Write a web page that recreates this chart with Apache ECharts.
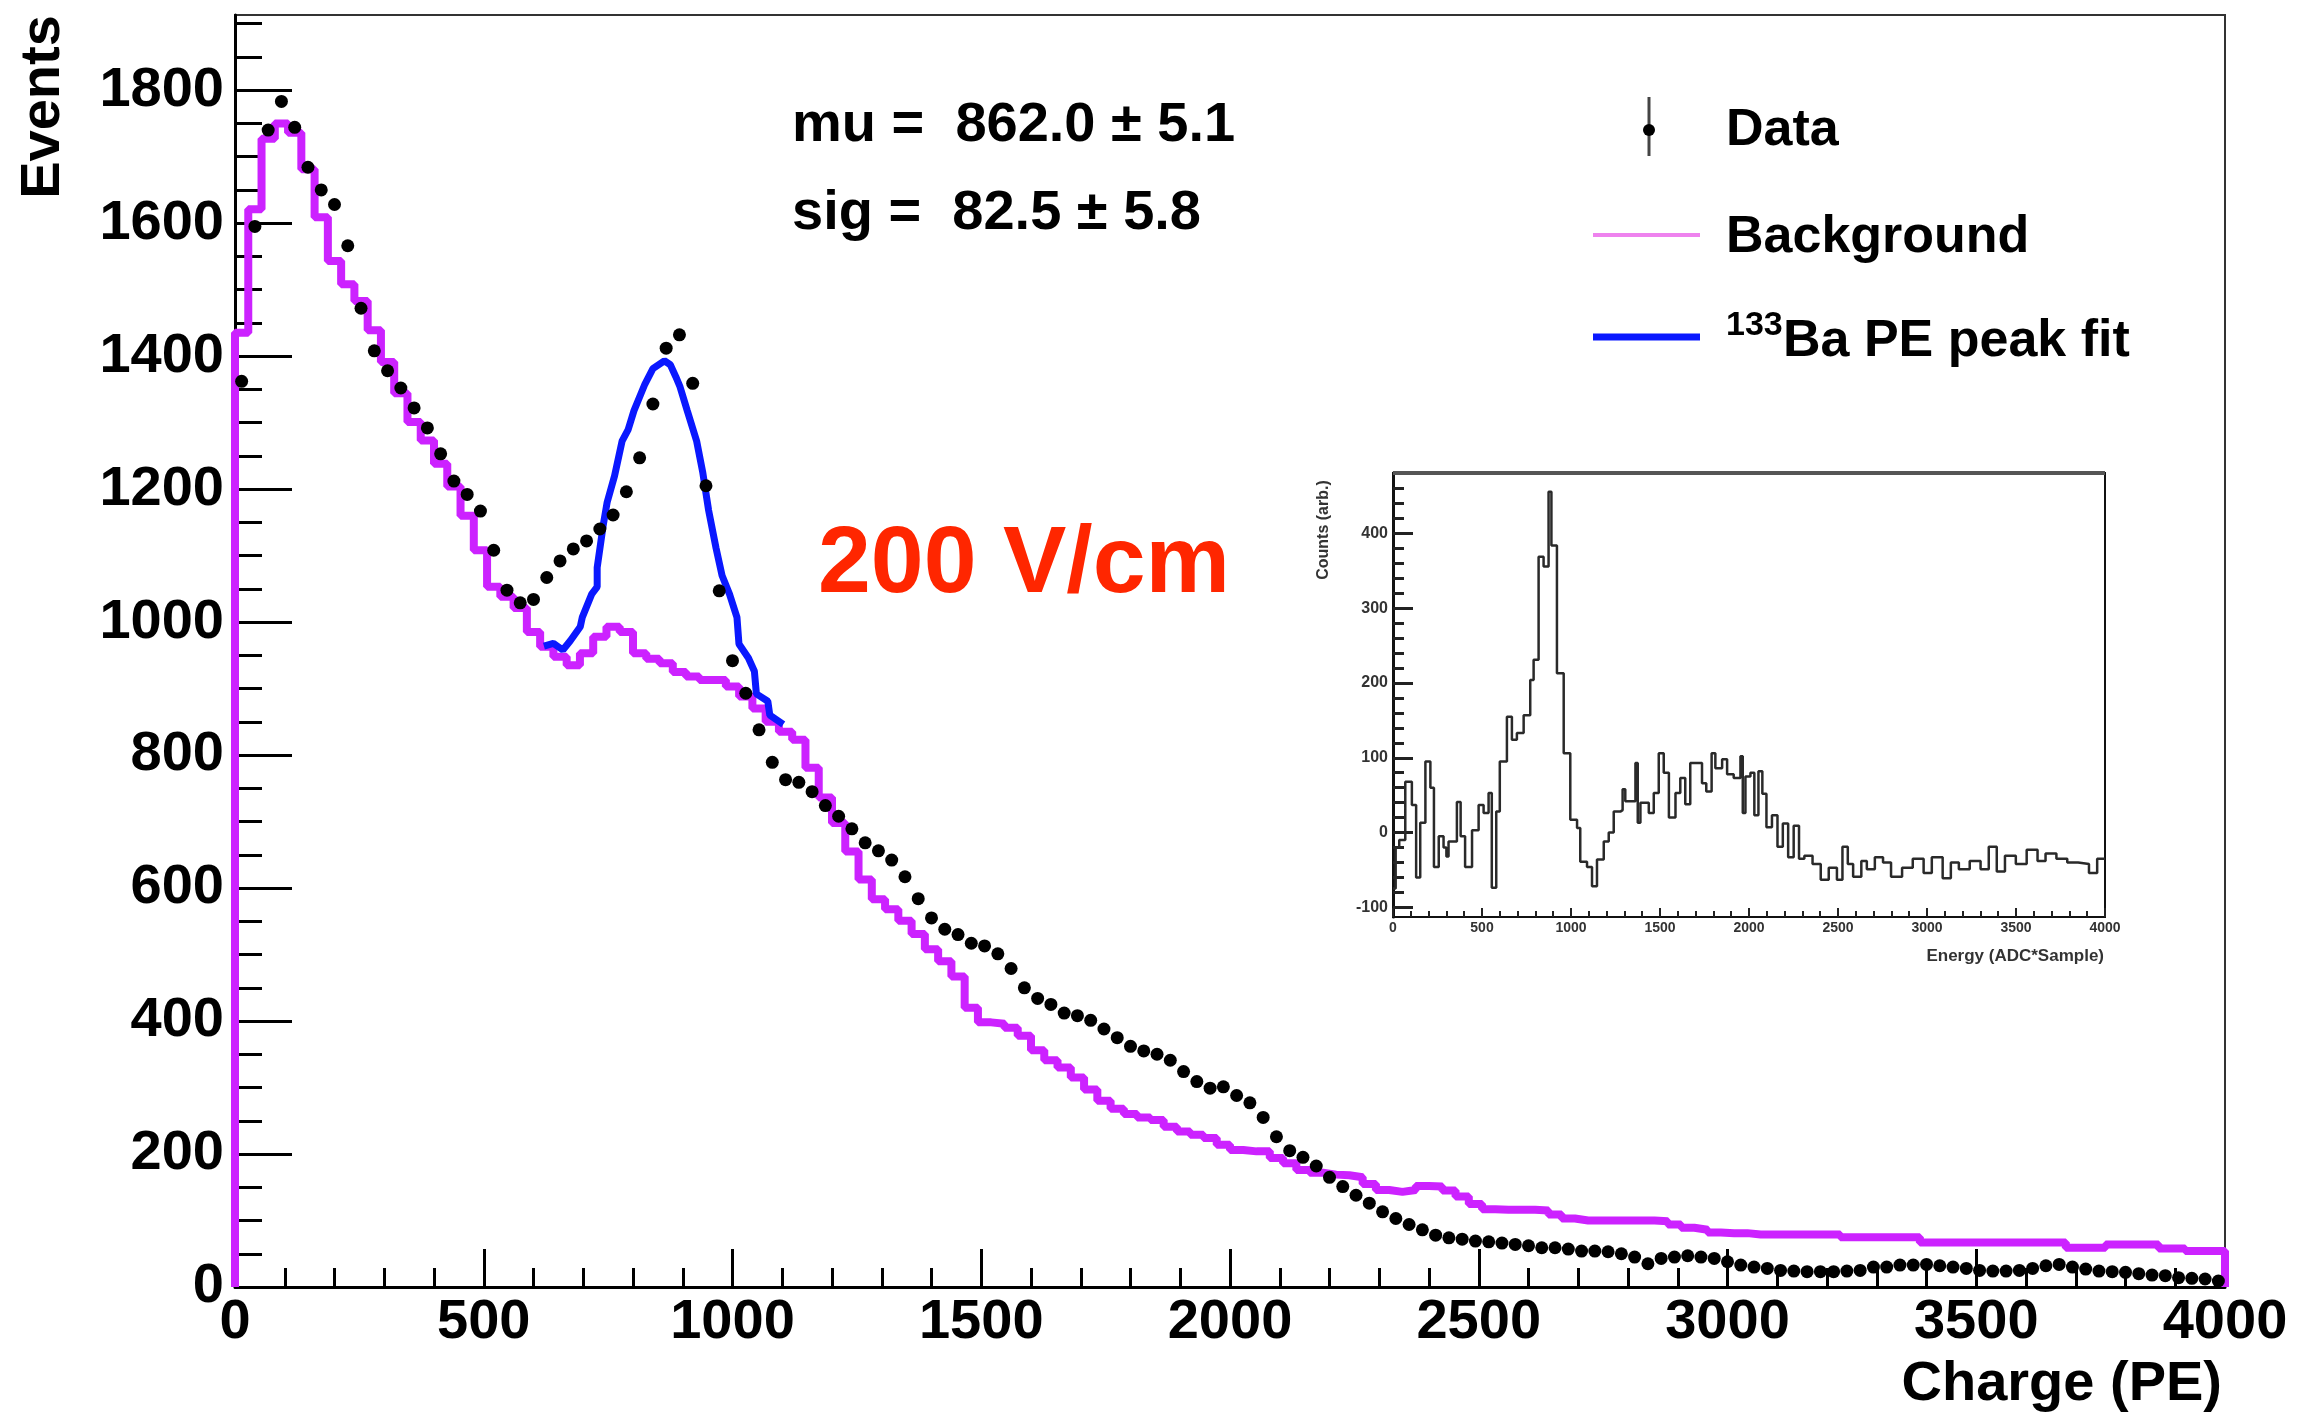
<!DOCTYPE html>
<html><head><meta charset="utf-8">
<script src="https://cdn.jsdelivr.net/npm/echarts@6/dist/echarts.min.js"></script>
<style>html,body{margin:0;padding:0;background:#fff}#c{width:2307px;height:1415px}</style>
</head><body><div id="c"></div>
<script>
// ---------- data ----------
const X_MIN = 0, X_MAX = 4000, N_BINS = 150;
const BIN_WIDTH = (X_MAX - X_MIN) / N_BINS;

const dataCounts = [
  1362,1595,1740,1783,1744,1684,1650,1628,1566,1472,
  1408,1378,1352,1322,1292,1253,1212,1192,1167,1108,
  1048,1029,1034,1067,1092,1110,1122,1140,1161,1196,
  1247,1328,1412,1432,1359,1205,1047,942,893,838,
  789,763,759,745,724,708,689,668,656,642,
  617,584,555,538,530,517,513,501,479,450,
  434,425,412,408,401,388,375,362,355,350,
  341,324,309,299,301,288,277,255,226,205,
  195,182,165,151,138,126,113,103,94,86,
  78,74,72,69,68,66,64,62,59,59,
  57,54,54,53,50,45,35,43,45,47,
  45,43,38,33,30,28,25,24,23,23,
  23,24,25,30,30,33,33,34,32,30,
  28,25,24,24,25,28,32,34,30,27,
  24,23,22,20,18,17,14,13,12,9
];

const backgroundCounts = [
  1435,1621,1727,1750,1736,1681,1609,1543,1508,1483,
  1439,1391,1344,1301,1273,1238,1204,1160,1108,1053,
  1038,1021,985,963,948,935,953,978,993,985,
  953,945,938,925,918,913,913,903,888,870,
  850,835,823,781,736,698,655,613,583,568,
  551,531,508,490,467,420,398,396,390,378,
  356,341,330,315,297,280,268,260,255,251,
  241,234,229,224,214,206,204,204,194,186,
  176,172,169,168,165,155,146,143,146,152,
  151,145,136,125,117,116,116,116,115,109,
  103,100,100,100,100,100,100,99,94,89,
  86,82,81,81,79,79,79,79,79,79,
  79,75,75,75,75,75,75,67,67,67,
  67,67,67,67,67,67,67,67,59,59,
  59,64,64,64,64,58,58,54,54,54
];

const fitX = [621,640,659,674,694,698,717,728,728,740,748,763,778,790,802,824,840,863,875,886,894,909,928,940,952,967,979,994,1009,1013,1032,1044,1048,1071,1075,1102];
const fitY = [964,968,958,972,993,1007,1042,1053,1082,1145,1180,1220,1272,1289,1318,1358,1381,1393,1387,1369,1355,1318,1272,1226,1168,1111,1070,1042,1007,967,946,926,892,881,860,846];

const xTickLabels = [0,500,1000,1500,2000,2500,3000,3500,4000];
const yTickLabels = [0,200,400,600,800,1000,1200,1400,1600,1800];
const yMinorTicks = [0,50,100,150,200,250,300,350,400,450,500,550,600,650,700,750,800,850,900,950,1000,1050,1100,1150,1200,1250,1300,1350,1400,1450,1500,1550,1600,1650,1700,1750,1800,1850,1900];

// inset spectrum (step edges / levels)
const insetEdges = [0,15,35,69,106,130,153,182,210,230,257,284,300,312,359,380,405,444,481,509,537,555,580,600,640,668,696,734,771,790,818,846,874,890,921,959,996,1034,1052,1090,1118,1146,1184,1212,1240,1277,1290,1305,1362,1375,1390,1437,1465,1493,1521,1550,1587,1614,1642,1670,1708,1736,1760,1790,1811,1849,1877,1914,1952,1965,1980,2008,2030,2053,2075,2098,2129,2160,2190,2220,2251,2281,2311,2357,2403,2448,2494,2525,2555,2585,2631,2662,2707,2753,2798,2860,2920,2981,3027,3088,3134,3179,3240,3301,3347,3392,3438,3499,3560,3621,3666,3727,3788,3849,3910,3956];
const insetLevels = [-75,-20,-10,68,37,-60,13,95,60,-46,-5,-20,-32,-12,41,-5,-46,3,37,26,53,-74,28,95,155,124,133,157,204,231,369,356,456,384,213,106,17,6,-39,-46,-72,-36,-12,0,28,30,58,42,93,13,40,26,53,106,80,20,53,73,38,93,93,66,55,106,86,98,78,73,102,26,75,80,23,82,52,7,23,-19,12,-33,9,-35,-31,-42,-63,-47,-63,-19,-42,-59,-38,-49,-33,-40,-59,-47,-35,-54,-33,-61,-40,-49,-38,-49,-19,-52,-31,-42,-23,-38,-28,-35,-40,-42,-54,-35];
const insetYTickLabels = [-100,0,100,200,300,400];
const insetYMinor = [-100,-80,-60,-40,-20,0,20,40,60,80,100,120,140,160,180,200,220,240,260,280,300,320,340,360,380,400,420,440,460,480];

// ---------- build ----------
const FONT = '"Liberation Sans", Arial, Helvetica, sans-serif';
const plain = v => String(v);
const dataPts = dataCounts.map((v, i) => [(i + 0.5) * BIN_WIDTH, v]);
const bgPts = [[X_MIN, 0]].concat(backgroundCounts.map((v, i) => [i * BIN_WIDTH, v]));
bgPts.push([X_MAX, backgroundCounts[backgroundCounts.length - 1]]);
bgPts.push([X_MAX, 0]);
const fitPts = fitX.map((x, i) => [x, fitY[i]]);
const insetPts = insetEdges.map((x, i) => [x, insetLevels[i]]);
insetPts.push([4000, insetLevels[insetLevels.length - 1]]);

const chart = echarts.init(document.getElementById('c'), null, {renderer: 'canvas'});
const option = {
  animation: false,
  backgroundColor: '#fff',
  grid: [
    {left: 235, right: 82, top: 15, bottom: 128, show: true, borderColor: '#333', borderWidth: 2, containLabel: false},
    {left: 1393, top: 473, width: 712, height: 444, show: true, borderColor: '#111', borderWidth: 2, backgroundColor: '#fff', containLabel: false}
  ],
  xAxis: [
    {type: 'value', gridIndex: 0, min: X_MIN, max: X_MAX, interval: 500,
     axisLine: {show: true, onZero: false, lineStyle: {color: '#000', width: 3}},
     axisTick: {show: true, inside: true, length: 38, lineStyle: {color: '#000', width: 3}},
     minorTick: {show: true, splitNumber: 5, length: 19, lineStyle: {color: '#000', width: 3}},
     splitLine: {show: false}, minorSplitLine: {show: false},
     axisLabel: {show: true, fontSize: 56, fontWeight: 'bold', fontFamily: FONT, color: '#000', margin: 8,
       customValues: xTickLabels, formatter: plain}
    },
    {type: 'value', gridIndex: 1, min: 0, max: 4000, interval: 500,
     axisLine: {show: true, onZero: false, lineStyle: {color: '#111', width: 2}},
     axisTick: {show: true, inside: true, length: 9, lineStyle: {color: '#222', width: 2}},
     minorTick: {show: true, splitNumber: 5, length: 6, lineStyle: {color: '#222', width: 2}},
     splitLine: {show: false},
     axisLabel: {show: true, fontSize: 14, fontWeight: 'bold', fontFamily: FONT, color: '#333', margin: 4, formatter: plain}
    }
  ],
  yAxis: [
    {type: 'value', gridIndex: 0, position: 'left', min: 0, max: 1913,
     axisLine: {show: true, onZero: false, lineStyle: {color: '#000', width: 3}},
     axisTick: {show: true, inside: true, length: 57, customValues: yTickLabels, lineStyle: {color: '#000', width: 3}},
     splitLine: {show: false},
     axisLabel: {show: true, fontSize: 56, fontWeight: 'bold', fontFamily: FONT, color: '#000', margin: 11,
       customValues: yTickLabels, formatter: plain}
    },
    {type: 'value', gridIndex: 0, position: 'left', min: 0, max: 1913,
     axisLine: {show: false},
     axisTick: {show: true, inside: true, length: 27, customValues: yMinorTicks, lineStyle: {color: '#000', width: 3}},
     splitLine: {show: false}, axisLabel: {show: false}
    },
    {type: 'value', gridIndex: 1, position: 'left', min: -113, max: 481,
     axisLine: {show: true, onZero: false, lineStyle: {color: '#111', width: 3}},
     axisTick: {show: true, inside: true, length: 20, customValues: insetYTickLabels, lineStyle: {color: '#222', width: 3}},
     splitLine: {show: false},
     axisLabel: {show: true, fontSize: 16, fontWeight: 'bold', fontFamily: FONT, color: '#333', margin: 5,
       customValues: insetYTickLabels, formatter: plain}
    },
    {type: 'value', gridIndex: 1, position: 'left', min: -113, max: 481,
     axisLine: {show: false},
     axisTick: {show: true, inside: true, length: 11, customValues: insetYMinor, lineStyle: {color: '#222', width: 3}},
     splitLine: {show: false}, axisLabel: {show: false}
    }
  ],
  series: [
    {name: 'Background', type: 'line', xAxisIndex: 0, yAxisIndex: 0, step: 'end', data: bgPts,
     showSymbol: false, clip: false, lineStyle: {color: '#cc22ff', width: 8}, z: 3},
    {name: '133Ba PE peak fit', type: 'line', xAxisIndex: 0, yAxisIndex: 0, data: fitPts,
     showSymbol: false, lineStyle: {color: '#0a18ff', width: 7}, z: 4},
    {name: 'Data', type: 'scatter', xAxisIndex: 0, yAxisIndex: 0, data: dataPts,
     symbol: 'circle', symbolSize: 13, itemStyle: {color: '#000', opacity: 1}, z: 5},
    {name: 'Inset', type: 'line', xAxisIndex: 1, yAxisIndex: 2, step: 'end', data: insetPts,
     showSymbol: false, lineStyle: {color: '#2a2a2a', width: 2.5}, z: 3}
  ],
  graphic: [
    {type: 'text', x: 44, y: 107, rotation: Math.PI / 2,
     style: {text: 'Events', font: 'bold 56px ' + FONT, fill: '#000', align: 'center', verticalAlign: 'middle'}},
    {type: 'text', x: 2222, y: 1385,
     style: {text: 'Charge (PE)', font: 'bold 56px ' + FONT, fill: '#000', align: 'right', verticalAlign: 'middle'}},
    {type: 'text', x: 792, y: 126,
     style: {text: 'mu =  862.0 \u00b1 5.1', font: 'bold 56px ' + FONT, fill: '#000', align: 'left', verticalAlign: 'middle'}},
    {type: 'text', x: 792, y: 214,
     style: {text: 'sig =  82.5 \u00b1 5.8', font: 'bold 56px ' + FONT, fill: '#000', align: 'left', verticalAlign: 'middle'}},
    {type: 'text', x: 818, y: 566,
     style: {text: '200 V/cm', font: 'bold 95px ' + FONT, fill: '#ff2600', align: 'left', verticalAlign: 'middle'}},
    // legend
    {type: 'line', shape: {x1: 1649, y1: 97, x2: 1649, y2: 156}, style: {stroke: '#444', lineWidth: 3}},
    {type: 'circle', shape: {cx: 1649, cy: 130, r: 6}, style: {fill: '#000'}},
    {type: 'text', x: 1726, y: 131,
     style: {text: 'Data', font: 'bold 52px ' + FONT, fill: '#000', align: 'left', verticalAlign: 'middle'}},
    {type: 'line', shape: {x1: 1593, y1: 235, x2: 1700, y2: 235}, style: {stroke: '#ee82ee', lineWidth: 4}},
    {type: 'text', x: 1726, y: 238,
     style: {text: 'Background', font: 'bold 52px ' + FONT, fill: '#000', align: 'left', verticalAlign: 'middle'}},
    {type: 'line', shape: {x1: 1593, y1: 337, x2: 1700, y2: 337}, style: {stroke: '#0a18ff', lineWidth: 7}},
    {type: 'text', x: 1726, y: 326,
     style: {text: '133', font: 'bold 34px ' + FONT, fill: '#000', align: 'left', verticalAlign: 'middle'}},
    {type: 'text', x: 1783, y: 342,
     style: {text: 'Ba PE peak fit', font: 'bold 52px ' + FONT, fill: '#000', align: 'left', verticalAlign: 'middle'}},
    // inset decorations
    {type: 'line', shape: {x1: 1393, y1: 473, x2: 2105, y2: 473}, style: {stroke: '#555', lineWidth: 4}, z: 10},
    {type: 'text', x: 1324, y: 530, rotation: Math.PI / 2,
     style: {text: 'Counts (arb.)', font: 'bold 16px ' + FONT, fill: '#333', align: 'center', verticalAlign: 'middle'}},
    {type: 'text', x: 2104, y: 956,
     style: {text: 'Energy (ADC*Sample)', font: 'bold 17px ' + FONT, fill: '#333', align: 'right', verticalAlign: 'middle'}}
  ]
};
chart.setOption(option);
</script>
</body></html>
